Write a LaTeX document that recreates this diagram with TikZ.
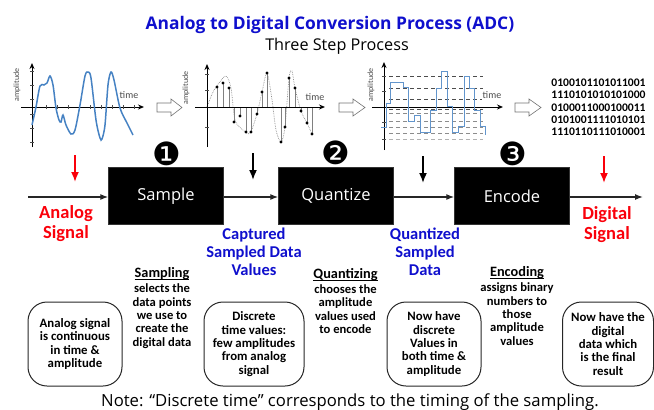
\documentclass[tikz,border=0pt]{standalone}
\usepackage{fontspec}
\setmainfont{Carlito}
\newfontfamily\opens{Open Sans}
\newfontfamily\djv{DejaVu Sans}
\usetikzlibrary{arrows.meta}
\definecolor{tblue}{RGB}{15,15,205}
\definecolor{wave}{RGB}{70,130,195}
\definecolor{tred}{RGB}{250,0,10}
\newcommand\hdul[1]{{\fontsize{14.3}{13.4}\selectfont\setbox0=\hbox{#1}\rlap{\raisebox{-2.6pt}{\rule{\wd0}{0.9pt}}}\box0}}
\tikzset{
 blackbox/.style={fill=black,draw=black!80,minimum width=115pt,minimum height=57pt,inner sep=0pt,text=white,font=\opens\fontsize{16.5}{18}\selectfont},
 flow/.style={draw=black!85,line width=1.3pt,-{Latex[length=8pt,width=6pt]}},
 downred/.style={draw=tred,line width=1.7pt,-{Latex[length=10pt,width=8pt]}},
 downblack/.style={draw=black,line width=1.7pt,-{Latex[length=10pt,width=8pt]}},
 roundbox/.style={draw=black!85,line width=1pt,rounded corners=19pt,minimum height=84pt,inner sep=0pt,align=center,font=\bfseries\fontsize{12.8}{13.4}\selectfont},
 redlabel/.style={align=center,text=tred,inner sep=0pt,font=\bfseries\fontsize{18.5}{20}\selectfont},
 bluelabel/.style={align=center,text=tblue,inner sep=0pt,font=\bfseries\fontsize{16.5}{18}\selectfont},
 desc/.style={align=center,inner sep=0pt,font=\bfseries\fontsize{12.6}{13.4}\selectfont},
 num/.style={inner sep=0pt,font=\djv\fontsize{32}{32}\selectfont},
 axis/.style={draw=black,line width=1pt,-{Stealth[length=6pt,width=5pt]}},
 axtext/.style={inner sep=0pt,text=black!70,font=\fontsize{8}{9}\selectfont},
 hollow/.style={draw=black!55,fill=white,line width=.6pt},
 darkdash/.style={draw=black!70,line width=.6pt,dash pattern=on 4pt off 3pt},
 middash/.style={draw=black!45,line width=.6pt,dash pattern=on 4pt off 3pt},
 lightdash/.style={draw=black!30,line width=.6pt,dash pattern=on 4pt off 3pt},
}
\begin{document}
\begin{tikzpicture}[x=1pt,y=-1pt]
\useasboundingbox (0,0) rectangle (654,410);
% titles
\node[inner sep=0pt,text=tblue,font=\opens\bfseries\fontsize{17.4}{20}\selectfont] (title) at (330,25) {Analog to Digital Conversion Process (ADC)};
\node[inner sep=0pt,font=\opens\fontsize{16.2}{19}\selectfont] (sub) at (337,46) {Three Step Process};
% plot 1
\coordinate (a1w) at (21,107); \coordinate (a1e) at (144,107);
\coordinate (a1s) at (32,147); \coordinate (a1n) at (32,63);
\draw[axis] (a1w) -- (a1e); \draw[axis] (a1s) -- (a1n);
\foreach \x in {46,57,68,79,90,101,112,123,134} \draw[black!70,line width=.6pt] (\x,105) -- (\x,109);
\foreach \y in {71,85,99,114,128,142} \draw[black!70,line width=.6pt] (30,\y) -- (34,\y);
\draw[wave,line width=1.5pt,smooth] plot coordinates {(32,125) (36,107) (40,86) (44,85) (47,83) (50,76) (53,85) (56,108) (59,120) (61,122) (63,115) (66,125) (71,134) (75,130) (80,105) (85,76) (88,72) (91,78) (96,120) (100,138) (102,139) (105,125) (108,85) (111,72) (114,80) (120,108) (127,123) (133,135)};
\node[axtext,rotate=90] (amp1) at (17,85) {amplitude};
\node[axtext,font=\fontsize{10}{11}\selectfont] (time1) at (129,95) {time};
% hollow arrow 1
\draw[hollow] (157,103) -- (171,103) -- (171,99) -- (182,107.5) -- (171,116) -- (171,112) -- (157,112) -- cycle;
% plot 2
\coordinate (a2w) at (195,107); \coordinate (a2e) at (325,107);
\coordinate (a2s) at (207,147); \coordinate (a2n) at (207,64);
\draw[black!45,densely dotted,line width=.7pt,smooth] plot coordinates {(207,107) (213,92) (219,83) (226,76) (231,88) (235,120) (243,130) (250,133) (257,114) (262,92) (267,73) (272,100) (276,130) (281,142) (285,127) (289,78) (292,71) (295,88) (301,111) (307,123) (312,134)};
\foreach \x/\y in {217/87,223/83,229/88,234/122,240/116,246/132,251/132,257/114,262/92,267/73,281/142,285/127,289/78,295/88,301/111,307/123,312/134}{
 \draw[black!50,line width=.6pt] (\x,107) -- (\x,\y);
 \fill[black] (\x,\y) circle (1.7pt);
}
\draw[axis] (a2w) -- (a2e); \draw[axis] (a2s) -- (a2n);
\foreach \y in {74,90,127} \draw[black!70,line width=.6pt] (205,\y) -- (209,\y);
\node[axtext,rotate=90] (amp2) at (186,88) {amplitude};
\node[axtext,font=\fontsize{10}{11}\selectfont] (time2) at (315,97) {time};
% hollow arrow 2
\draw[hollow] (339,103) -- (353,103) -- (353,99) -- (365,107.5) -- (353,116) -- (353,112) -- (339,112) -- cycle;
% plot 3
\foreach \y in {76,88,99,109} \draw[darkdash] (389,\y) -- (483,\y);
\foreach \y in {113,121,127,133} \draw[middash] (389,\y) -- (483,\y);
\draw[lightdash] (389,139) -- (483,139);
\coordinate (a3w) at (372,107); \coordinate (a3e) at (503,107);
\coordinate (a3s) at (384,150); \coordinate (a3n) at (384,62);
\draw[axis] (a3w) -- (a3e); \draw[axis] (a3s) -- (a3n);
\foreach \y in {76,91,122,139} \draw[black!70,line width=.6pt] (382,\y) -- (386,\y);
\begin{scope}[shift={(324,0)},xscale=1/3,yscale=1/3]
\draw[wave!85,line width=1pt] (172,382) -- (188,382) -- (188,310) -- (200,310) -- (200,247) -- (237,247) -- (237,263) -- (253,263) -- (253,365) -- (270,365) -- (270,345) -- (288,345) -- (288,398) -- (320,398) -- (320,330) -- (338,330) -- (338,265) -- (353,265) -- (353,215) -- (370,215) -- (370,320) -- (386,320) -- (386,398) -- (404,398) -- (404,380) -- (420,380) -- (420,230) -- (437,230) -- (437,265) -- (452,265) -- (452,330) -- (468,330) -- (468,378) -- (484,378) -- (484,405);
\end{scope}
\node[axtext,rotate=90] (amp3) at (371,85) {amplitude};
\node[axtext,font=\fontsize{10}{11}\selectfont,fill=white,inner sep=1pt] (time3) at (492,95.5) {time};
% hollow arrow 3
\draw[hollow] (515,103) -- (529,103) -- (529,99) -- (541,107.5) -- (529,116) -- (529,112) -- (515,112) -- cycle;
% binary
\node[align=center,inner sep=0pt,font=\bfseries\fontsize{11.6}{12.3}\selectfont] (bits) at (598.5,107.5) {0100101101011001\\1110101010101000\\0100011000100011\\0101001111010101\\1110110111010001};
% numbers
\node[num] (n1) at (167,154) {❶};
\node[num] (n2) at (336,153) {❷};
\node[num] (n3) at (513,154) {❸};
% blocks
\node[blackbox] (sample) at (166,196) {Sample};
\node[blackbox] (quant) at (336,196) {Quantize};
\node[blackbox] (enc) at (512,196) {Encode};
\coordinate (inp) at (28,197); \coordinate (outp) at (643,197);
\draw[flow] (inp) -- (inp -| sample.west);
\draw[flow] (sample.east |- inp) -- (quant.west |- inp);
\draw[flow] (quant.east |- inp) -- (enc.west |- inp);
\draw[flow] (enc.east |- inp) -- (outp);
% down arrows
\coordinate (r1a) at (75,155); \coordinate (r1b) at (75,182);
\coordinate (b1a) at (253,153); \coordinate (b1b) at (253,180);
\coordinate (b2a) at (423,156); \coordinate (b2b) at (423,183);
\coordinate (r2a) at (604,156); \coordinate (r2b) at (604,183);
\draw[downred] (r1a) -- (r1b);
\draw[downblack] (b1a) -- (b1b);
\draw[downblack] (b2a) -- (b2b);
\draw[downred] (r2a) -- (r2b);
% signal labels
\node[redlabel] (analog) at (66,223.5) {Analog\\Signal};
\node[redlabel] (digital) at (607,224.5) {Digital\\Signal};
\node[bluelabel] (cap) at (254,252) {Captured\\Sampled Data\\Values};
\node[bluelabel] (qsd) at (425,252) {Quantized\\Sampled\\Data};
% descriptions
\node[desc] (sd) at (162,308) {\hdul{Sampling}\\[1.5pt]selects the\\data points\\we use to\\create the\\digital data};
\node[desc] (qd) at (345.5,301) {\hdul{Quantizing}\\[1.5pt]chooses the\\amplitude\\values used\\to encode};
\node[desc] (ed) at (517,306) {\hdul{Encoding}\\[1.5pt]assigns binary\\numbers to\\those\\amplitude\\values};
% rounded boxes
\node[roundbox,minimum width=94pt] (rb1) at (75,344) {Analog signal\\is continuous\\in time \&\\amplitude};
\node[roundbox,minimum width=100pt] (rb2) at (254,344) {Discrete\\time values:\\few amplitudes\\from analog\\signal};
\node[roundbox,minimum width=94pt] (rb3) at (434,344) {Now have\\discrete\\Values in\\both time \&\\amplitude};
\node[roundbox,minimum width=91pt] (rb4) at (608,344) {Now have the\\digital\\data which\\is the final\\result};
% note
\node[inner sep=0pt,font=\opens\fontsize{16.7}{19}\selectfont] (note) at (350,402) {Note: “Discrete time” corresponds to the timing of the sampling.};
\end{tikzpicture}
\end{document}
